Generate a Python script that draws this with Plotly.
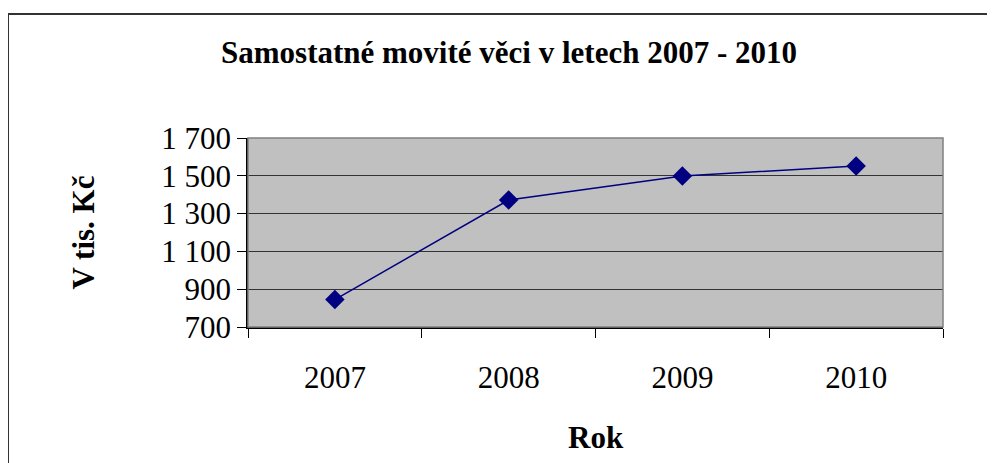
import plotly.graph_objects as go

years = ["2007", "2008", "2009", "2010"]
values = [845, 1372, 1499, 1552]
y_ticks = [700, 900, 1100, 1300, 1500, 1700]
y_tick_labels = ["700", "900", "1 100", "1 300", "1 500", "1 700"]

serif = "Liberation Serif"

# page body adds an 8px offset, so figure is 8px smaller than window
W, H = 987, 455

fig = go.Figure(go.Scatter(
    x=years, y=values, mode="lines+markers",
    line=dict(color="#000080", width=1.5),
    marker=dict(symbol="diamond", size=15, color="#000080"),
))

fig.update_layout(
    width=W, height=H,
    margin=dict(l=240, r=52, t=130, b=136),
    paper_bgcolor="white",
    plot_bgcolor="#C0C0C0",
    showlegend=False,
    font=dict(family=serif, color="black", size=31),
    title=dict(
        text="<b>Samostatné movité věci v letech 2007 - 2010</b>",
        x=501 / W, xref="container", xanchor="center",
        y=1 - 44 / H, yref="container", yanchor="middle",
        font=dict(size=31, family=serif, color="black"),
    ),
)

fig.update_xaxes(
    type="category", range=[-0.5, 3.5],
    tickson="boundaries", ticks="outside", ticklen=9, tickcolor="black",
    showline=True, linecolor="black", linewidth=1.5,
    showgrid=False, ticklabelstandoff=22,
)
fig.update_yaxes(
    range=[700, 1700], tickvals=y_ticks, ticktext=y_tick_labels,
    ticks="outside", ticklen=9, tickcolor="black",
    showline=True, linecolor="black", linewidth=1.5,
    showgrid=True, gridcolor="#333333", gridwidth=1,
    zeroline=False,
)

# plot area frame (grey on top and right) and outer chart border
fig.add_shape(type="rect", xref="paper", yref="paper", x0=0, x1=1, y0=0, y1=1,
              line=dict(color="#808080", width=1.5), layer="above")
fig.add_shape(type="rect", xref="paper", yref="paper",
              x0=-240 / 695, x1=1.2, y0=-1.0, y1=(327 - 14) / 189,
              line=dict(color="#333333", width=2))

fig.add_annotation(text="<b>Rok</b>", xref="paper", yref="paper",
                   x=0.5, y=(327 - 437) / 189, showarrow=False,
                   xanchor="center", yanchor="middle", font=dict(size=31))
fig.add_annotation(text="<b>V tis. Kč</b>", xref="paper", yref="paper",
                   x=(83 - 248) / 695, y=0.5, showarrow=False, textangle=-90,
                   xanchor="center", yanchor="middle", font=dict(size=31))

fig.write_html("out.html")
